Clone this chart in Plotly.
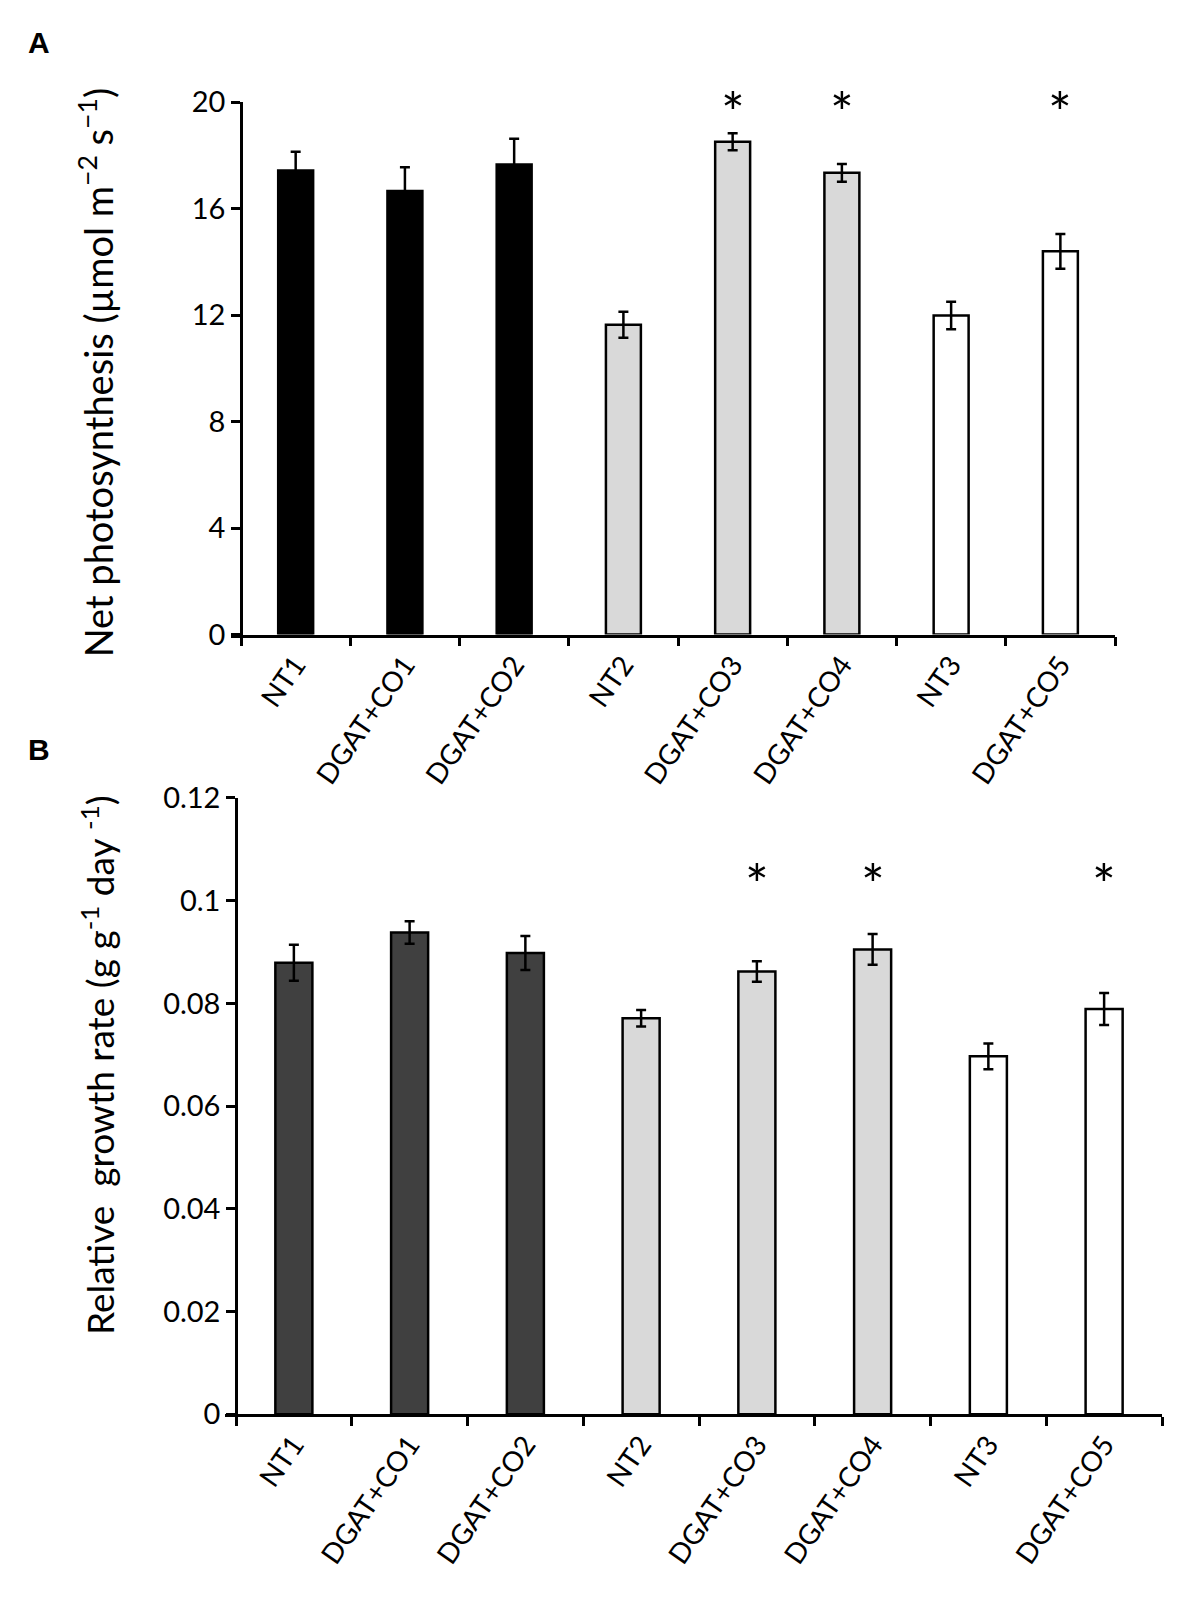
import plotly.graph_objects as go

# Categories (same for both panels)
categories = ["NT1", "DGAT+CO1", "DGAT+CO2", "NT2", "DGAT+CO3", "DGAT+CO4", "NT3", "DGAT+CO5"]

# Panel A - net photosynthesis (umol m-2 s-1)
photo_mean = [17.44, 16.67, 17.66, 11.64, 18.52, 17.35, 11.99, 14.40]
photo_err = [0.70, 0.89, 0.97, 0.49, 0.32, 0.33, 0.52, 0.65]
photo_max = 20

# Panel B - relative growth rate (g g-1 day-1)
rgr_mean = [0.0879, 0.0938, 0.0898, 0.0771, 0.0862, 0.0905, 0.0697, 0.0789]
rgr_err = [0.0035, 0.0022, 0.0033, 0.0016, 0.0020, 0.0030, 0.0025, 0.0031]
rgr_max = 0.12

# significant lines (asterisks) and the level they sit at
signif = ["DGAT+CO3", "DGAT+CO4", "DGAT+CO5"]
star_a = 20.1
star_b = 0.1057

colors_a = ["#000000"] * 3 + ["#d9d9d9"] * 3 + ["#ffffff"] * 2
colors_b = ["#404040"] * 3 + ["#d9d9d9"] * 3 + ["#ffffff"] * 2

W, H = 1183, 1617
FONT = "Lato"


def px_x(p):
    return p / W


def px_y(p):
    return 1 - p / H


fig = go.Figure()

fig.add_trace(go.Bar(
    x=categories, y=photo_mean, width=0.32,
    marker=dict(color=colors_a, line=dict(color="black", width=2.5)),
    error_y=dict(type="data", array=photo_err, color="black", thickness=2.5, width=5),
    xaxis="x", yaxis="y", showlegend=False,
))
fig.add_trace(go.Bar(
    x=categories, y=rgr_mean, width=0.32,
    marker=dict(color=colors_b, line=dict(color="black", width=2.5)),
    error_y=dict(type="data", array=rgr_err, color="black", thickness=2.5, width=5),
    xaxis="x2", yaxis="y2", showlegend=False,
))

xcommon = dict(
    type="category", categoryorder="array", categoryarray=categories,
    showline=True, linecolor="black", linewidth=2.5,
    ticks="outside", tickson="boundaries", ticklen=9, tickwidth=2.5, tickcolor="black",
    tickangle=-55, tickfont=dict(family=FONT, size=28, color="black"),
    showgrid=False, zeroline=False,
)
ycommon = dict(
    showline=True, linecolor="black", linewidth=2.5,
    ticks="outside", ticklen=9, tickwidth=2.5, tickcolor="black",
    tickfont=dict(family=FONT, size=29, color="black"),
    showgrid=False, zeroline=False, anchor="free",
)

fig.update_layout(
    width=W, height=H,
    margin=dict(l=0, r=0, t=0, b=0),
    plot_bgcolor="white", paper_bgcolor="white",
    xaxis=dict(xcommon, domain=[px_x(223), px_x(1107)], range=[-0.592, 7.5], anchor="y"),
    yaxis=dict(ycommon, domain=[px_y(621), px_y(77)], range=[0, photo_max],
               tickvals=[0, 4, 8, 12, 16, 20], position=px_x(233)),
    xaxis2=dict(xcommon, domain=[px_x(217), px_x(1154)], range=[-0.595, 7.5], anchor="y2"),
    yaxis2=dict(ycommon, domain=[px_y(1418), px_y(788)], range=[0, rgr_max],
                tickvals=[0, 0.02, 0.04, 0.06, 0.08, 0.1, 0.12],
                ticktext=["0", "0.02", "0.04", "0.06", "0.08", "0.1", "0.12"],
                position=px_x(228)),
)

annotations = [
    dict(text="<b>A</b>", x=px_x(18), y=px_y(-3), xanchor="left", yanchor="top",
         xref="paper", yref="paper", font=dict(family="Liberation Sans", size=30, color="black")),
    dict(text="<b>B</b>", x=px_x(18), y=px_y(720), xanchor="left", yanchor="top",
         xref="paper", yref="paper", font=dict(family="Liberation Sans", size=30, color="black")),
    dict(text="Net photosynthesis (µmol m<sup>−2</sup> s<sup>−1</sup>)", textangle=-90,
         x=px_x(88), y=px_y(354), xanchor="center", yanchor="middle",
         xref="paper", yref="paper", font=dict(family=FONT, size=38, color="black")),
    dict(text="Relative  growth rate (g g<sup>-1</sup> day <sup>-1</sup>)", textangle=-90,
         x=px_x(90), y=px_y(1061), xanchor="center", yanchor="middle",
         xref="paper", yref="paper", font=dict(family=FONT, size=37, color="black")),
]
# asterisks over the significant lines (domain refs so the ones above the axis top stay visible)
for c in signif:
    annotations.append(dict(text="*", x=c, y=star_a / photo_max, xref="x", yref="y domain",
                            yanchor="middle", yshift=-12,
                            font=dict(family=FONT, size=56, color="black")))
    annotations.append(dict(text="*", x=c, y=star_b / rgr_max, xref="x2", yref="y2 domain",
                            yanchor="middle", yshift=-12,
                            font=dict(family=FONT, size=56, color="black")))
for a in annotations:
    a.update(showarrow=False)
fig.update_layout(annotations=annotations)

fig.write_html("out.html")
